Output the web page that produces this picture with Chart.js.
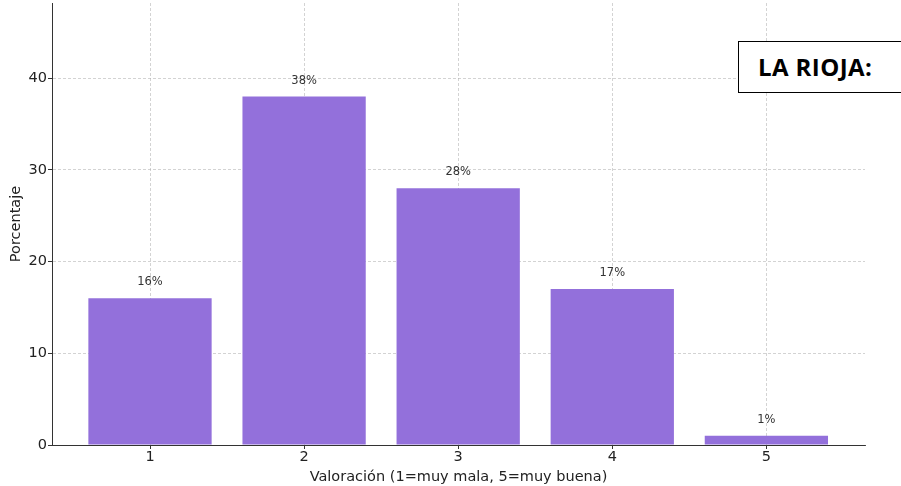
<!DOCTYPE html>
<html><head><meta charset="utf-8">
<script src="https://cdn.jsdelivr.net/npm/chart.js@4.4.0/dist/chart.umd.min.js"></script>
<style>
html,body{margin:0;padding:0;background:#fff;}
#wrap{position:relative;width:901px;height:486px;}
#box{position:absolute;left:738px;top:41px;width:170px;height:52px;border:1px solid #000;background:#fff;box-sizing:border-box;
font-family:"Open Sans","Liberation Sans",sans-serif;font-weight:bold;font-size:24px;line-height:50px;padding-left:19px;color:#000;letter-spacing:0.4px;}
</style></head>
<body><div id="wrap"><canvas id="c" width="901" height="486"></canvas><div id="box">LA RIOJA:</div></div>
<script>
const categories = [1, 2, 3, 4, 5];
const percentages = [16, 38, 28, 17, 1];
const yTicks = [0, 10, 20, 30, 40];
const xTitle = "Valoración (1=muy mala, 5=muy buena)";
const yTitle = "Porcentaje";

const labelPlugin = {
  id: 'barLabels',
  afterDraw(chart) {
    const ctx = chart.ctx;
    const meta = chart.getDatasetMeta(0);
    ctx.save();
    ctx.font = '11.5px "DejaVu Sans"';
    ctx.fillStyle = '#333';
    ctx.textAlign = 'center';
    ctx.textBaseline = 'middle';
    meta.data.forEach((bar, i) => {
      ctx.fillText(percentages[i] + '%', bar.x, bar.y - 16);
    });
    ctx.restore();
  }
};

const gridCommon = {
  color: 'rgba(176,176,176,0.7)',
  offset: false,
  tickLength: 4,
  tickColor: '#333',
  tickWidth: 1,
  lineWidth: 0.8
};
const borderCommon = {display: true, color: '#333', width: 1, dash: [3, 2]};

new Chart(document.getElementById('c'), {
  type: 'bar',
  data: {
    datasets: [{
      data: categories.map((c, i) => ({x: c, y: percentages[i]})),
      backgroundColor: '#9370DB',
      borderWidth: 0,
      barPercentage: 0.8,
      categoryPercentage: 1.0
    }]
  },
  options: {
    responsive: false,
    animation: false,
    layout: {padding: {top: 3, right: 36, left: 0, bottom: 0}},
    plugins: {legend: {display: false}, tooltip: {enabled: false}},
    scales: {
      x: {
        type: 'linear',
        z: 1,
        min: 0.364,
        max: 5.64,
        offset: false,
        afterBuildTicks(s) { s.ticks = categories.map(v => ({value: v})); },
        afterFit(s) { s.height = 41; s.paddingLeft = 0; s.paddingRight = 0; },
        ticks: {font: {family: 'DejaVu Sans', size: 14.5}, color: '#222', padding: 0, autoSkip: false},
        grid: gridCommon,
        border: borderCommon,
        title: {display: true, text: xTitle, font: {family: 'DejaVu Sans', size: 14.5}, color: '#222', padding: {top: 0, bottom: 0}}
      },
      y: {
        z: 1,
        min: 0,
        max: 48.2,
        afterBuildTicks(s) { s.ticks = yTicks.map(v => ({value: v})); },
        afterFit(s) { s.width = 52; s.paddingTop = 0; s.paddingBottom = 0; },
        ticks: {font: {family: 'DejaVu Sans', size: 14.5}, color: '#222', padding: 1},
        grid: gridCommon,
        border: borderCommon,
        title: {display: true, text: yTitle, font: {family: 'DejaVu Sans', size: 14.5}, color: '#222', padding: {top: 8, bottom: 2}}
      }
    }
  },
  plugins: [labelPlugin]
});
</script>
</body></html>
